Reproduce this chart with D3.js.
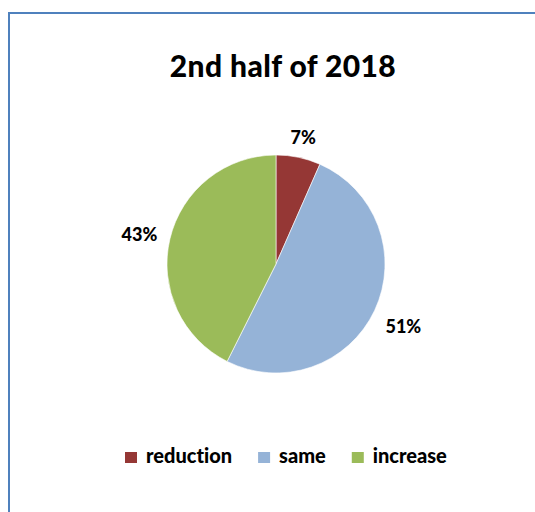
<!DOCTYPE html>
<html>
<head>
<meta charset="utf-8">
<script src="https://cdn.jsdelivr.net/npm/d3@7"></script>
<style>
    body { margin: 0; background: #fff; }
    text { font-family: Lato, "Open Sans", sans-serif; font-weight: 900; fill: #000; font-variant-ligatures: none; }
</style>
</head>
<body>
<svg id="chart" width="535" height="512"></svg>
<script>
// chart data
const title = "2nd half of 2018";
const categories = ["reduction", "same", "increase"];
const shares = [6.6, 50.8, 42.6]; // percent of answers
const colors = ["#953735", "#95b3d7", "#9bbb59"];

const svg = d3.select("#chart");
const cx = 276, cy = 264, r = 109;

// chart frame (cropped on the right and bottom)
svg.append("rect")
    .attr("x", 9).attr("y", 13)
    .attr("width", 600).attr("height", 600)
    .attr("fill", "none")
    .attr("stroke", "#4f81bd")
    .attr("stroke-width", 2);

svg.append("text")
    .attr("x", 283).attr("y", 77)
    .attr("text-anchor", "middle")
    .attr("font-size", 30)
    .attr("letter-spacing", 0.4)
    .text(title);

const pie = d3.pie().sort(null).value(d => d)(shares);
const arc = d3.arc().innerRadius(0).outerRadius(r);
const color = d3.scaleOrdinal(categories, colors);

const g = svg.append("g").attr("transform", `translate(${cx},${cy})`);
g.selectAll("path")
    .data(pie)
    .join("path")
    .attr("d", arc)
    .attr("fill", (d, i) => color(categories[i]))
    .attr("stroke", "#fff")
    .attr("stroke-width", 0.6);

// data labels placed just outside the slice, like "outside end"
const fmt = d3.format(".0%");
const labels = g.selectAll("text.lbl")
    .data(pie)
    .join("text")
    .attr("class", "lbl")
    .attr("font-size", 18)
    .attr("text-anchor", "middle")
    .attr("dominant-baseline", "central")
    .text(d => fmt(d.value / 100));

labels.each(function (d) {
    const bb = this.getBBox();
    const a = (d.startAngle + d.endAngle) / 2;
    const sx = Math.sin(a), sy = -Math.cos(a);
    const ext = Math.abs(sx) * bb.width / 2 + Math.abs(sy) * bb.height / 2 * 0.75;
    const dist = r + 12 + ext;
    d3.select(this).attr("x", sx * dist).attr("y", sy * dist + 2);
});

// legend
const legend = svg.append("g").attr("transform", "translate(0,463)");
let lx = 125;
categories.forEach((c, i) => {
    const item = legend.append("g");
    item.append("rect")
        .attr("x", lx).attr("y", -11)
        .attr("width", 12).attr("height", 11)
        .attr("fill", color(c));
    const t = item.append("text")
        .attr("x", lx + 21).attr("y", 0)
        .attr("font-size", 20)
        .text(c);
    lx += 21 + t.node().getComputedTextLength() + 26;
});
</script>
</body>
</html>
